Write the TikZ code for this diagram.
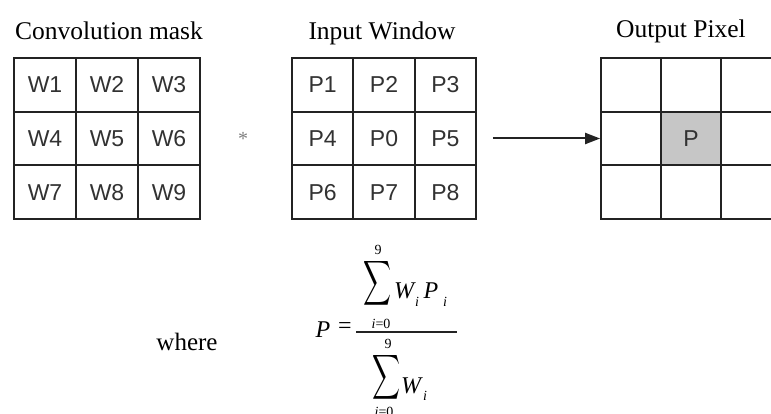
\documentclass[tikz,border=0pt]{standalone}
\usepackage{fontspec}
\setmainfont{Liberation Serif}
\setsansfont{Liberation Sans}
\usepackage{graphicx}
\usetikzlibrary{arrows.meta}

\definecolor{gridline}{RGB}{35,35,35}
\definecolor{celltext}{RGB}{50,50,50}
\definecolor{pixfill}{RGB}{198,198,198}

% large summation sign used in the weighted-average formula
\newcommand{\bigsigma}{\resizebox*{28pt}{50pt}{$\displaystyle\sum$}}

\tikzset{
  cellbox/.style={draw=gridline, line width=1.7pt, rectangle, inner sep=0pt,
    minimum width=#1, minimum height=53.67pt,
    font=\sffamily\fontsize{23}{26}\selectfont, text=celltext},
  gridtitle/.style={anchor=base, inner sep=0pt, font=\fontsize{25.5}{30}\selectfont},
  formtext/.style={anchor=base, inner sep=0pt, font=\fontsize{24}{28}\selectfont\itshape},
  limittext/.style={inner sep=0pt, font=\fontsize{14}{16}\selectfont},
  sumsign/.style={inner sep=0pt},
  arrowline/.style={draw=gridline, line width=2pt, -{Triangle[length=15pt,width=11pt]}},
}

\begin{document}
\begin{tikzpicture}[x=1pt,y=-1pt]
\useasboundingbox (0,0) rectangle (771,414);
\clip (0,0) rectangle (771,414);
\fill[white] (0,0) rectangle (771,414);

% titles
\node[gridtitle] (tmask) at (109,40) {Convolution mask};
\node[gridtitle] (tin)   at (382,40) {Input Window};
\node[gridtitle] (tout)  at (681,38) {Output Pixel};

% convolution mask
\foreach \lab/\c/\r in {W1/0/0,W2/1/0,W3/2/0,W4/0/1,W5/1/1,W6/2/1,W7/0/2,W8/1/2,W9/2/2}
  \node[cellbox=62pt] (m\c\r) at ({45+62*\c},{84.83+53.67*\r}) {\lab};

% multiplication sign
\node[inner sep=0pt, text=gray, font=\fontsize{20}{22}\selectfont] (star) at (243,139) {*};

% input window
\foreach \lab/\c/\r in {P1/0/0,P2/1/0,P3/2/0,P4/0/1,P0/1/1,P5/2/1,P6/0/2,P7/1/2,P8/2/2}
  \node[cellbox=61.33pt] (in\c\r) at ({322.67+61.33*\c},{84.83+53.67*\r}) {\lab};

% output pixel neighbourhood
\foreach \c/\r in {0/0,1/0,2/0,0/1,2/1,0/2,1/2,2/2}
  \node[cellbox=60pt] (out\c\r) at ({631+60*\c},{84.83+53.67*\r}) {};
\node[cellbox=60pt, fill=pixfill] (out11) at (691,138.5) {P};

% arrow from the input window to the output pixel
\coordinate (arrowstart) at ([xshift=16pt]in21.east);
\draw[arrowline] (arrowstart) -- (out01.west);

% formula
\node[anchor=base, inner sep=0pt, font=\fontsize{25}{30}\selectfont] (where) at (187,350) {where};
\node[formtext] (fP) at (323,337) {P};
\node[inner sep=0pt, font=\fontsize{24}{28}\selectfont] (feq) at (345,328) {=};
\coordinate (barL) at (356,332);
\coordinate (barR) at (457,332);
\draw[line width=1.5pt, gridline] (barL) -- (barR);

% numerator
\node[limittext] (nup) at (378,250) {9};
\node[sumsign] (nsum) at (377,283) {\bigsigma};
\node[limittext] (nlow) at (381,324) {\textit{i}=0};
\node[formtext] (nW) at (404,298) {W};
\node[limittext, anchor=base] (nWi) at (417,306) {\textit{i}};
\node[formtext] (nP) at (431,298) {P};
\node[limittext, anchor=base] (nPi) at (445,306) {\textit{i}};

% denominator
\node[limittext] (dup) at (388,344) {9};
\node[sumsign] (dsum) at (386,377) {\bigsigma};
\node[formtext] (dW) at (411,393) {W};
\node[limittext, anchor=base] (dWi) at (425,400) {\textit{i}};
\node[limittext] (dlow) at (384,412) {\textit{i}=0};
\end{tikzpicture}
\end{document}
